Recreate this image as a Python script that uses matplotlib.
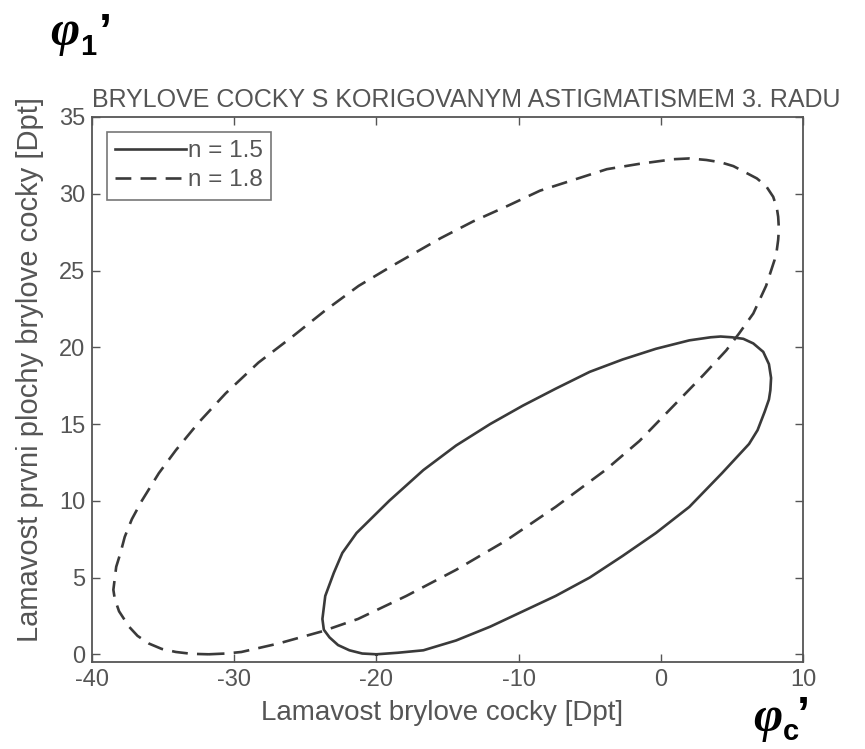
import matplotlib
matplotlib.use('Agg')
import matplotlib.pyplot as plt

# body values (Dpt)
x_n15 = [-20.0, -18.5, -16.7, -14.4, -12.0, -9.7, -7.4, -5.0, -2.7, -0.35, 2.0, 4.3,
         6.2, 6.8, 7.3, 7.6, 7.7, 7.75, 7.6, 7.2, 6.5, 5.8, 5.0, 4.2, 3.5, 2.0,
         -0.35, -2.7, -5.0, -7.4, -9.7, -12.0, -14.4, -16.7, -19.1, -21.4, -22.4,
         -23.0, -23.6, -23.8, -23.7, -23.3, -22.7, -21.9, -21.0, -20.0]
y_n15 = [0.0, 0.1, 0.26, 0.9, 1.8, 2.8, 3.8, 5.0, 6.4, 7.9, 9.6, 11.8,
         13.7, 14.6, 15.8, 16.6, 17.2, 18.0, 18.9, 19.7, 20.25, 20.55, 20.65, 20.7, 20.65, 20.45,
         19.9, 19.2, 18.4, 17.3, 16.2, 15.0, 13.6, 12.0, 10.0, 7.9, 6.6,
         5.3, 3.8, 2.3, 1.6, 1.1, 0.6, 0.26, 0.05, 0.0]

x_n18 = [-31.8, -30.6, -29.5, -26.9, -23.8, -21.3, -17.9, -14.4, -10.9, -7.4, -3.9,
         -1.5, 0.8, 3.0, 4.6, 5.5, 6.5, 7.4, 8.0, 8.15, 8.25, 8.3, 8.25, 8.15, 7.9,
         7.4, 6.75, 5.1, 4.2, 3.2, 2.0, 0.9, -1.5, -3.8, -6.15, -8.5, -10.8, -13.2,
         -15.5, -17.2, -18.9, -21.25, -23.6, -25.9, -28.3, -30.6, -32.5, -34.1,
         -35.3, -36.5, -37.2, -37.7, -38.0, -38.3, -38.5, -38.4, -38.1, -37.4,
         -36.8, -36.0, -35.1, -34.1, -33.0, -31.8]
y_n18 = [0.0, 0.05, 0.15, 0.7, 1.5, 2.3, 3.8, 5.5, 7.4, 9.6, 12.0,
         13.9, 16.1, 18.2, 19.8, 20.9, 22.2, 24.0, 25.7, 26.3, 27.0, 27.7, 28.5, 29.1, 29.8,
         30.5, 31.0, 31.8, 32.05, 32.2, 32.3, 32.25, 31.95, 31.6, 30.9, 30.2, 29.2, 28.2,
         27.1, 26.2, 25.3, 24.0, 22.4, 20.7, 19.0, 17.0, 15.1, 13.3,
         11.8, 10.0, 8.8, 7.65, 6.6, 5.7, 4.2, 3.6, 2.8, 1.8,
         1.2, 0.7, 0.35, 0.15, 0.03, 0.0]

labels = ['n = 1.5', 'n = 1.8']
xticks = [-40, -30, -20, -10, 0, 10]
yticks = [0, 5, 10, 15, 20, 25, 30, 35]

plt.rcParams['font.family'] = ['Liberation Sans', 'DejaVu Sans']
plt.rcParams['axes.unicode_minus'] = False
grey = '#555555'
linec = '#3a3a3a'

W, H = 865, 749
fig = plt.figure(figsize=(W / 100, H / 100), dpi=100)
ax = fig.add_axes([0.1064, 0.1162, 0.822, 0.7276])

ax.plot(x_n15, y_n15, color=linec, linestyle='-', linewidth=1.9, label=labels[0])
ax.plot(x_n18, y_n18, color=linec, linestyle=(0, (6, 3.5)), linewidth=1.9, label=labels[1])

ax.set_xlim(-40, 10)
ax.set_ylim(-0.5, 35)
ax.set_xticks(xticks)
ax.set_yticks(yticks)
ax.tick_params(direction='in', top=True, right=True, length=6, width=1,
               colors=grey, labelsize=17, pad=5)
for s in ax.spines.values():
    s.set_color(grey)
    s.set_linewidth(1.3)

leg = ax.legend(loc='upper left', fontsize=17.5, frameon=True, fancybox=False,
                handlelength=2.9, handletextpad=0.1, borderpad=0.35,
                labelspacing=0.3, borderaxespad=0.6, labelcolor=grey)
leg.get_frame().set_edgecolor(grey)
leg.get_frame().set_linewidth(1.2)

fig.text(466 / W, 1 - 100 / H, 'BRYLOVE COCKY S KORIGOVANYM ASTIGMATISMEM 3. RADU',
         ha='center', va='center', fontsize=18, color=grey)
fig.text(442 / W, 1 - 713 / H, 'Lamavost brylove cocky [Dpt]',
         ha='center', va='center', fontsize=20, color=grey)
fig.text(30 / W, 1 - 370 / H, 'Lamavost prvni plochy brylove cocky [Dpt]',
         ha='center', va='center', rotation=90, fontsize=21, color=grey)

# axis symbols
fig.text(50 / W, 1 - 45 / H, '\u03c6', family='Liberation Serif', style='italic',
         weight='bold', fontsize=36, color='black', ha='left', va='baseline')
fig.text(80 / W, 1 - 55 / H, '1', fontsize=21, weight='bold', color='black',
         ha='left', va='baseline')
fig.text(99 / W, 1 - 12 / H, '\u2019', fontsize=34, weight='bold', color='black',
         ha='left', va='top')
fig.text(753 / W, 1 - 731 / H, '\u03c6', family='Liberation Serif', style='italic',
         weight='bold', fontsize=36, color='black', ha='left', va='baseline')
fig.text(783 / W, 1 - 740 / H, 'c', fontsize=21, weight='bold', color='black',
         ha='left', va='baseline')
fig.text(797 / W, 1 - 695 / H, '\u2019', fontsize=34, weight='bold', color='black',
         ha='left', va='top')

fig.savefig('out.png', dpi=100)
